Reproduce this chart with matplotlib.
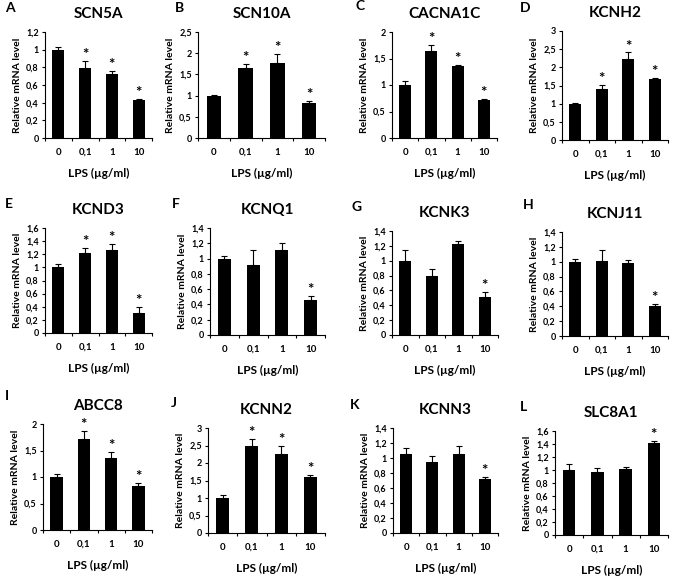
import matplotlib
matplotlib.use("Agg")
import matplotlib.pyplot as plt
import numpy as np

plt.rcParams['font.family'] = ['Lato', 'DejaVu Sans']

W, H = 675, 576

doses = ["0", "0,1", "1", "10"]

genes = ["SCN5A", "SCN10A", "CACNA1C", "KCNH2",
         "KCND3", "KCNQ1", "KCNK3", "KCNJ11",
         "ABCC8", "KCNN2", "KCNN3", "SLC8A1"]
letters = list("ABCDEFGHIJKL")

means = [
    [1.00, 0.79, 0.73, 0.43],
    [1.00, 1.64, 1.78, 0.82],
    [1.00, 1.65, 1.35, 0.71],
    [1.00, 1.41, 2.22, 1.68],
    [1.00, 1.22, 1.26, 0.30],
    [1.00, 0.92, 1.11, 0.46],
    [1.00, 0.79, 1.22, 0.51],
    [1.00, 1.01, 0.98, 0.41],
    [1.00, 1.72, 1.35, 0.83],
    [1.00, 2.50, 2.27, 1.60],
    [1.05, 0.95, 1.05, 0.72],
    [1.00, 0.97, 1.01, 1.41],
]
errors = [
    [0.03, 0.08, 0.03, 0.01],
    [0.01, 0.11, 0.21, 0.06],
    [0.07, 0.11, 0.02, 0.02],
    [0.01, 0.11, 0.19, 0.03],
    [0.05, 0.07, 0.09, 0.09],
    [0.03, 0.19, 0.09, 0.05],
    [0.14, 0.10, 0.05, 0.07],
    [0.04, 0.15, 0.04, 0.02],
    [0.05, 0.14, 0.13, 0.05],
    [0.10, 0.19, 0.22, 0.05],
    [0.08, 0.08, 0.11, 0.03],
    [0.09, 0.06, 0.04, 0.03],
]
# which bars carry an asterisk
stars = [
    [1, 2, 3], [1, 2, 3], [1, 2, 3], [1, 2, 3],
    [1, 2, 3], [3], [3], [3],
    [1, 2, 3], [1, 2, 3], [3], [3],
]
ymax = [1.2, 2.5, 2.0, 3.0, 1.6, 1.4, 1.4, 1.4, 2.0, 3.0, 1.4, 1.6]
ystep = [0.2, 0.5, 0.5, 0.5, 0.2, 0.2, 0.2, 0.2, 0.5, 0.5, 0.2, 0.2]

# axes boxes in pixels: left, top, right, bottom
boxes = [
    (45, 32, 152, 138), (198, 32, 325, 138), (392, 32, 497, 138), (562, 31, 668, 140),
    (45, 228, 152, 333), (210, 228, 325, 335), (392, 231, 498, 335), (562, 232, 668, 336),
    (43, 424, 152, 530), (208, 428, 325, 533), (393, 428, 498, 533), (555, 431, 668, 535),
]
letter_pos = [
    (5, 8), (175, 8), (355, 6), (520, 8),
    (5, 204), (172, 204), (352, 207), (523, 205),
    (5, 396), (171, 403), (350, 405), (520, 407),
]


def fmt(v):
    s = f"{v:.1f}".rstrip("0").rstrip(".")
    return s.replace(".", ",")


fig = plt.figure(figsize=(W / 100, H / 100), dpi=100)

for i, g in enumerate(genes):
    l, t, r, b = boxes[i]
    ax = fig.add_axes([l / W, 1 - b / H, (r - l) / W, (b - t) / H])
    x = np.arange(4)
    ax.bar(x, means[i], width=0.45, color="black", zorder=2)
    ax.errorbar(x, means[i], yerr=[np.zeros(4), errors[i]], fmt="none",
                ecolor="black", elinewidth=0.8, capsize=2.5, capthick=0.8, zorder=3)
    for j in stars[i]:
        ax.text(x[j], means[i][j] + errors[i][j] - ymax[i] * 0.01, "*",
                ha="center", va="bottom", fontsize=11, fontweight="bold")
    ax.set_xlim(-0.5, 3.5)
    ax.set_ylim(0, ymax[i])
    ticks = np.arange(0, ymax[i] + 1e-6, ystep[i])
    ax.set_yticks(ticks)
    ax.set_yticklabels([fmt(v) for v in ticks], fontsize=6.5, fontweight="bold")
    ax.set_xticks(x)
    ax.set_xticklabels(doses, fontsize=7, fontweight="bold")
    ax.set_xticks(np.arange(-0.5, 4, 1), minor=True)
    ax.tick_params(axis="x", which="major", length=0, pad=7)
    ax.tick_params(axis="x", which="minor", length=2.5, width=0.8)
    ax.tick_params(axis="y", length=2.5, width=0.8, pad=2)
    for s in ["top", "right"]:
        ax.spines[s].set_visible(False)
    for s in ["left", "bottom"]:
        ax.spines[s].set_linewidth(0.8)
    ax.set_ylabel("Relative mRNA level", fontsize=7.5, fontweight="bold", labelpad=3)
    ax.set_xlabel("LPS (\u00b5g/ml)", fontsize=8.5, fontweight="bold", labelpad=8)
    ax.set_title(g, fontsize=11, fontweight="bold", pad=10)
    lx, ly = letter_pos[i]
    fig.text(lx / W, 1 - ly / H, letters[i], fontsize=10, fontweight="bold",
             ha="left", va="center")

fig.savefig("out.png", dpi=100)
